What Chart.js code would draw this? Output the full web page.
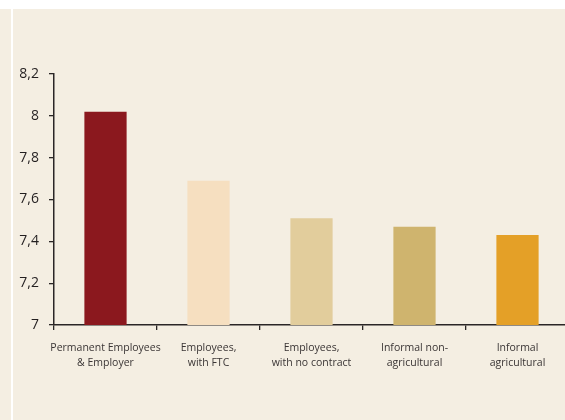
<!DOCTYPE html>
<html>
<head>
<meta charset="utf-8">
<script src="https://cdn.jsdelivr.net/npm/chart.js@4.4.1/dist/chart.umd.min.js"></script>
<style>
  html, body { margin: 0; padding: 0; background: #fff; overflow: hidden; }
  #wrap { position: relative; width: 565px; height: 420px; overflow: hidden; background: #F4EEE2; }
  #topband { position: absolute; left: 0; top: 0; width: 565px; height: 9px; background: #fff; }
  #vline { position: absolute; left: 11px; top: 9px; width: 2px; height: 411px; background: #fff; }
  #chart { position: absolute; left: 0; top: 0; }
</style>
</head>
<body>
<div id="wrap">
  <div id="topband"></div>
  <div id="vline"></div>
  <canvas id="chart" width="600" height="420"></canvas>
</div>
<script>
// data
const categories = [
  ['Permanent Employees', '& Employer'],
  ['Employees,', 'with FTC'],
  ['Employees,', 'with no contract'],
  ['Informal non-', 'agricultural'],
  ['Informal', 'agricultural']
];
const values = [8.02, 7.69, 7.51, 7.47, 7.43];
const barColors = ['#8B181E', '#F6DFC0', '#E2CD9C', '#CFB46E', '#E4A027'];
const yTicks = [7, 7.2, 7.4, 7.6, 7.8, 8, 8.2];

const axisColor = '#2a2626';

new Chart(document.getElementById('chart'), {
  type: 'bar',
  data: {
    labels: categories,
    datasets: [{
      data: values,
      backgroundColor: barColors,
      borderWidth: 0,
      barPercentage: 0.41,
      categoryPercentage: 1
    }]
  },
  options: {
    responsive: false,
    animation: false,
    devicePixelRatio: 1,
    layout: { padding: { top: 74, right: 31, bottom: 25, left: 0 } },
    plugins: { legend: { display: false }, tooltip: { enabled: false } },
    scales: {
      x: {
        grid: { display: true, drawOnChartArea: false, offset: true, color: axisColor, lineWidth: 1.3, tickLength: 5 },
        border: { color: axisColor, width: 1.5 },
        ticks: {
          color: '#3a3535',
          font: { family: 'Open Sans', size: 10.5, lineHeight: 1.45 },
          padding: 10,
          maxRotation: 0,
          autoSkip: false
        },
        afterFit: s => { s.height = 70; }
      },
      y: {
        min: 7,
        max: 8.2,
        afterBuildTicks: s => { s.ticks = yTicks.map(v => ({ value: v })); },
        grid: { display: true, drawOnChartArea: false, color: axisColor, lineWidth: 1.3, tickLength: 5 },
        border: { color: axisColor, width: 1.5 },
        ticks: {
          color: '#231f20',
          font: { family: 'Open Sans', size: 14 },
          padding: 10,
          callback: v => String(Math.round(v * 10) / 10).replace('.', ',')
        },
        afterFit: s => { s.width = 54; }
      }
    }
  }
});
</script>
</body>
</html>
